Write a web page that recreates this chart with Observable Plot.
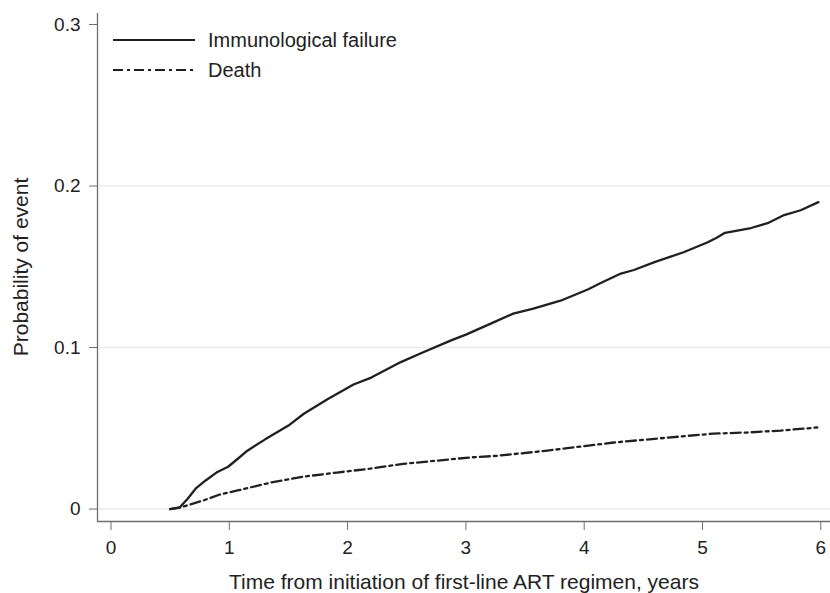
<!DOCTYPE html>
<html>
<head>
<meta charset="utf-8">
<script src="https://cdn.jsdelivr.net/npm/d3@7"></script>
<script src="https://cdn.jsdelivr.net/npm/@observablehq/plot@0.6"></script>
<style>
  html, body { margin: 0; padding: 0; background: #fff; }
  #chart svg { display: block; }
</style>
</head>
<body>
<div id="chart"></div>
<script>
// Immunological failure cumulative incidence (years, probability)
const ifTime = [0.50, 0.58, 0.65, 0.72, 0.80, 0.90, 0.99, 1.07, 1.15, 1.30, 1.50, 1.63, 1.83, 2.05, 2.20, 2.45, 2.62, 2.87, 3.00, 3.21, 3.40, 3.57, 3.80, 4.03, 4.14, 4.31, 4.42, 4.60, 4.84, 5.04, 5.12, 5.19, 5.41, 5.55, 5.69, 5.83, 5.98];
const ifProb = [0.000, 0.001, 0.0065, 0.013, 0.0177, 0.023, 0.0262, 0.031, 0.036, 0.043, 0.0517, 0.059, 0.068, 0.0771, 0.0814, 0.091, 0.0965, 0.1043, 0.108, 0.1148, 0.121, 0.1241, 0.129, 0.1359, 0.140, 0.1458, 0.148, 0.153, 0.159, 0.165, 0.168, 0.171, 0.174, 0.177, 0.182, 0.185, 0.190];
// Death cumulative incidence
const deathTime = [0.50, 0.587, 0.78, 0.92, 1.07, 1.35, 1.63, 1.91, 2.19, 2.47, 2.76, 3.04, 3.27, 3.69, 4.25, 4.81, 5.09, 5.38, 5.66, 5.97];
const deathProb = [0.000, 0.001, 0.0053, 0.009, 0.0115, 0.0164, 0.0201, 0.0226, 0.025, 0.028, 0.030, 0.032, 0.033, 0.0362, 0.0412, 0.0449, 0.0467, 0.0474, 0.0486, 0.0505];

const xTicks = [0, 1, 2, 3, 4, 5, 6];
const yTicks = [0, 0.1, 0.2, 0.3];
const gridTicks = [0, 0.1, 0.2];
const seriesNames = ["Immunological failure", "Death"];
const xTitle = "Time from initiation of first-line ART regimen, years";
const yTitle = "Probability of event";

const xDomain = [-0.114, 6.082];
const yDomain = [-0.0077, 0.3068];

const ifData = ifTime.map((t, i) => ({t, p: ifProb[i]}));
const deathData = deathTime.map((t, i) => ({t, p: deathProb[i]}));

const ink = "#231f20";
const axisCol = "#6e6e6e";
const font = "'Liberation Sans', Arial, Helvetica, sans-serif";

const plot = Plot.plot({
  width: 830,
  height: 593,
  marginLeft: 97,
  marginRight: 0,
  marginTop: 13,
  marginBottom: 72,
  style: {fontFamily: font, fontSize: "20px", color: "#222", background: "#fff"},
  x: {domain: xDomain, label: null},
  y: {domain: yDomain, label: null},
  marks: [
    Plot.gridY(gridTicks, {stroke: "#ebebeb", strokeOpacity: 1, strokeWidth: 1.5}),
    Plot.ruleX([xDomain[0]], {y1: yDomain[0], y2: yDomain[1], stroke: axisCol, strokeWidth: 1.3}),
    Plot.ruleY([yDomain[0]], {x1: xDomain[0], x2: xDomain[1], stroke: axisCol, strokeWidth: 1.3}),
    Plot.axisX(xTicks, {
      tickSize: 9, tickPadding: 10, stroke: axisCol, fill: "#222", fontSize: 19,
      tickFormat: d => String(d), label: null
    }),
    Plot.axisY(yTicks, {
      tickSize: 8, tickPadding: 9, stroke: axisCol, fill: "#222", fontSize: 19,
      tickFormat: d => String(d), label: null
    }),
    Plot.line(ifData, {x: "t", y: "p", stroke: ink, strokeWidth: 2.3, curve: "linear"}),
    Plot.line(deathData, {x: "t", y: "p", stroke: ink, strokeWidth: 2.3, strokeDasharray: "10,4,3,4", curve: "linear"})
  ]
});

document.getElementById("chart").appendChild(plot);

const svg = d3.select(plot);

// Axis titles
svg.append("text")
  .attr("x", 464).attr("y", 589)
  .attr("text-anchor", "middle")
  .attr("font-family", font).attr("font-size", 21).attr("fill", "#222")
  .text(xTitle);
svg.append("text")
  .attr("transform", "translate(28,267) rotate(-90)")
  .attr("text-anchor", "middle")
  .attr("font-family", font).attr("font-size", 21).attr("fill", "#222")
  .text(yTitle);

// Legend (inside plot, top-left)
const leg = svg.append("g")
  .attr("font-family", font).attr("font-size", 20).attr("fill", "#222")
  .attr("text-anchor", "start");
const legendRows = [
  {name: seriesNames[0], dash: null, y: 40},
  {name: seriesNames[1], dash: "10,4,3,4", y: 70}
];
legendRows.forEach(r => {
  leg.append("line")
    .attr("x1", 113).attr("x2", 195).attr("y1", r.y).attr("y2", r.y)
    .attr("stroke", ink).attr("stroke-width", 2)
    .attr("stroke-dasharray", r.dash);
  leg.append("text")
    .attr("x", 208).attr("y", r.y).attr("dy", "0.35em")
    .attr("text-anchor", "start")
    .text(r.name);
});
</script>
</body>
</html>
